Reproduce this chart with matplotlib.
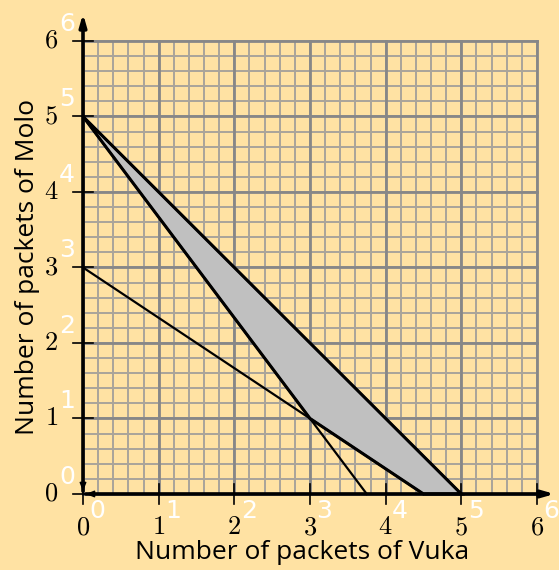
import numpy as np
import matplotlib.pyplot as plt
from matplotlib.patches import Polygon

plt.rcParams['mathtext.fontset'] = 'cm'

# constraint lines given by their intercepts (x-intercept, y-intercept)
line_x_int = [5, 3.75, 4.5]
line_y_int = [5, 5, 3]

# shaded feasible region
region_x = [0, 5, 4.5, 3]
region_y = [5, 0, 0, 1]

ticks = [0, 1, 2, 3, 4, 5, 6]
x_title = "Number of packets of Vuka"
y_title = "Number of packets of Molo"

bg = '#ffe2a3'

fig = plt.figure(figsize=(5.59, 5.70), dpi=100)
fig.patch.set_facecolor(bg)
ax = fig.add_axes([0, 0, 1, 1])
ax.set_facecolor(bg)
ax.set_xlim(-1.097, 6.291)
ax.set_ylim(-1.007, 6.543)
ax.axis('off')

# grid paper: minor every 0.2, major every 1
minor = np.arange(0, 6.01, 0.2)
for v in minor:
    ax.plot([v, v], [0, 6], color='#a9a49a', lw=1.4, zorder=1)
    ax.plot([0, 6], [v, v], color='#a9a49a', lw=1.4, zorder=1)
for v in ticks:
    ax.plot([v, v], [0, 6], color='#878787', lw=2.0, zorder=1)
    ax.plot([0, 6], [v, v], color='#878787', lw=2.0, zorder=1)

# feasible region
ax.add_patch(Polygon(list(zip(region_x, region_y)), closed=True,
                     facecolor='#c0c0c0', edgecolor='black', lw=2.2, zorder=3))

# constraint lines
for xi, yi in zip(line_x_int, line_y_int):
    ax.plot([0, xi], [yi, 0], color='black', lw=1.6, zorder=4)

# axes with arrows
ax.annotate('', xy=(6.27, 0), xytext=(0, 0),
            arrowprops=dict(arrowstyle='-|>,head_width=0.2,head_length=0.7',
                            color='black', lw=2.6), zorder=5)
ax.annotate('', xy=(0, 6.4), xytext=(0, 0),
            arrowprops=dict(arrowstyle='-|>,head_width=0.2,head_length=0.7',
                            color='black', lw=2.6), zorder=5)
ax.annotate('', xy=(0, 0), xytext=(0.25, 0),
            arrowprops=dict(arrowstyle='-|>,head_width=0.2,head_length=0.5',
                            color='black', lw=1.0), zorder=5)
ax.annotate('', xy=(0, 0), xytext=(0, 0.25),
            arrowprops=dict(arrowstyle='-|>,head_width=0.2,head_length=0.5',
                            color='black', lw=1.0), zorder=5)

# tick marks and labels
tl = 0.135
for t in ticks:
    ax.plot([t, t], [-tl, tl], color='black', lw=1.2, zorder=5)
    ax.plot([-tl, tl], [t, t], color='black', lw=1.2, zorder=5)
    ax.text(t, -0.44, rf'${t}$', ha='center', va='center', fontsize=19, zorder=6)
    ax.text(-0.42, t, rf'${t}$', ha='center', va='center', fontsize=19, zorder=6)
    ax.text(t + 0.19, -0.23, str(t), ha='center', va='center', fontsize=18,
            color='white', zorder=6)
    ax.text(-0.21, t + 0.23, str(t), ha='center', va='center', fontsize=18,
            color='white', zorder=6)

ax.text(2.9, -0.78, x_title, ha='center', va='center', fontsize=19,
        family='Open Sans', zorder=6)
ax.text(-0.74, 3.0, y_title, ha='center', va='center', fontsize=19,
        family='Open Sans', rotation=90, zorder=6)

fig.savefig('out.png', dpi=100, facecolor=bg)
